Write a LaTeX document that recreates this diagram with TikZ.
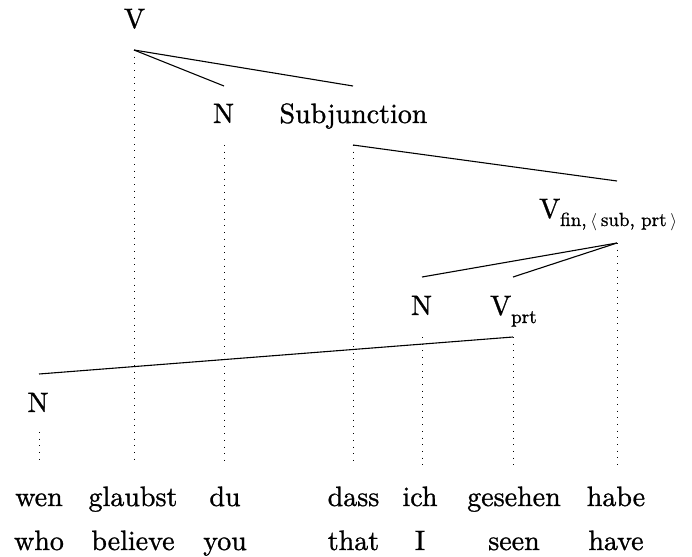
\documentclass[tikz,border=0pt]{standalone}
\usepackage{fontspec}
\newfontfamily\lbfont{lmroman10-regular.otf}[FakeBold=1.0]
\tikzset{
  lbl/.style={font=\lbfont\fontsize{28}{34}\selectfont, inner sep=0pt, anchor=base},
  lblw/.style={font=\lbfont\fontsize{28}{34}\selectfont, inner sep=0pt, anchor=base west},
  tree/.style={line width=1.1pt},
  guide/.style={line width=0.9pt, dash pattern=on 0.9pt off 5.8pt},
}
\newcommand{\subtxt}[1]{\raisebox{-8pt}{\fontsize{19}{22}\selectfont #1}}
\begin{document}
\begin{tikzpicture}[x=1pt,y=-1pt]
\useasboundingbox (0,0) rectangle (692,556);
% category labels
\node[lbl] (V) at (134.5,28) {V};
\node[lbl] (Ndu) at (223.5,123) {N};
\node[lbl] (Sub) at (353.5,123) {Subjunction};
\node[lblw] (Vfin) at (539,218) {V\subtxt{fin,\hspace{0.2em}$\langle$\hspace{0.2em}sub, prt\hspace{0.2em}$\rangle$}};
\node[lbl] (Nich) at (421.5,315) {N};
\node[lblw] (Vprt) at (490,315) {V\subtxt{prt}};
\node[lbl] (Nwen) at (38,412) {N};
% words
\node[lbl] (w1) at (39,506) {wen};
\node[lbl] (w2) at (133,506) {glaubst};
\node[lbl] (w3) at (225,506) {du};
\node[lbl] (w4) at (353.5,506) {dass};
\node[lbl] (w5) at (420,506) {ich};
\node[lbl] (w6) at (514,506) {gesehen};
\node[lbl] (w7) at (616,506) {habe};
% glosses
\node[lbl] (g1) at (39,550) {who};
\node[lbl] (g2) at (133,550) {believe};
\node[lbl] (g3) at (225,550) {you};
\node[lbl] (g4) at (353.5,550) {that};
\node[lbl] (g5) at (420,550) {I};
\node[lbl] (g6) at (514,550) {seen};
\node[lbl] (g7) at (616,550) {have};
% attachment points
\coordinate (Vb) at (134,50);
\coordinate (Ndut) at (224,86);
\coordinate (Ndub) at (224,145);
\coordinate (Subt) at (353,86);
\coordinate (Subb) at (353,145);
\coordinate (Vfint) at (617,181);
\coordinate (Vfinb) at (617,243);
\coordinate (Nicht) at (422,277);
\coordinate (Nichb) at (422,337);
\coordinate (Vprtt) at (513,277);
\coordinate (Vprtb) at (513,337);
\coordinate (Nwent) at (39,374);
\coordinate (Nwenb) at (39,432);
\coordinate (t1) at (39,465);
\coordinate (t2) at (134,465);
\coordinate (t3) at (224,465);
\coordinate (t4) at (353,465);
\coordinate (t5) at (422,465);
\coordinate (t6) at (513,465);
\coordinate (t7) at (617,465);
% tree edges
\draw[tree] (Vb) -- (Ndut);
\draw[tree] (Vb) -- (Subt);
\draw[tree] (Subb) -- (Vfint);
\draw[tree] (Vfinb) -- (Nicht);
\draw[tree] (Vfinb) -- (Vprtt);
\draw[tree] (Vprtb) -- (Nwent);
% projection lines
\draw[guide] (Vb) -- (t2);
\draw[guide] (Ndub) -- (t3);
\draw[guide] (Subb) -- (t4);
\draw[guide] (Vfinb) -- (t7);
\draw[guide] (Nichb) -- (t5);
\draw[guide] (Vprtb) -- (t6);
\draw[guide] (Nwenb) -- (t1);
\end{tikzpicture}
\end{document}
